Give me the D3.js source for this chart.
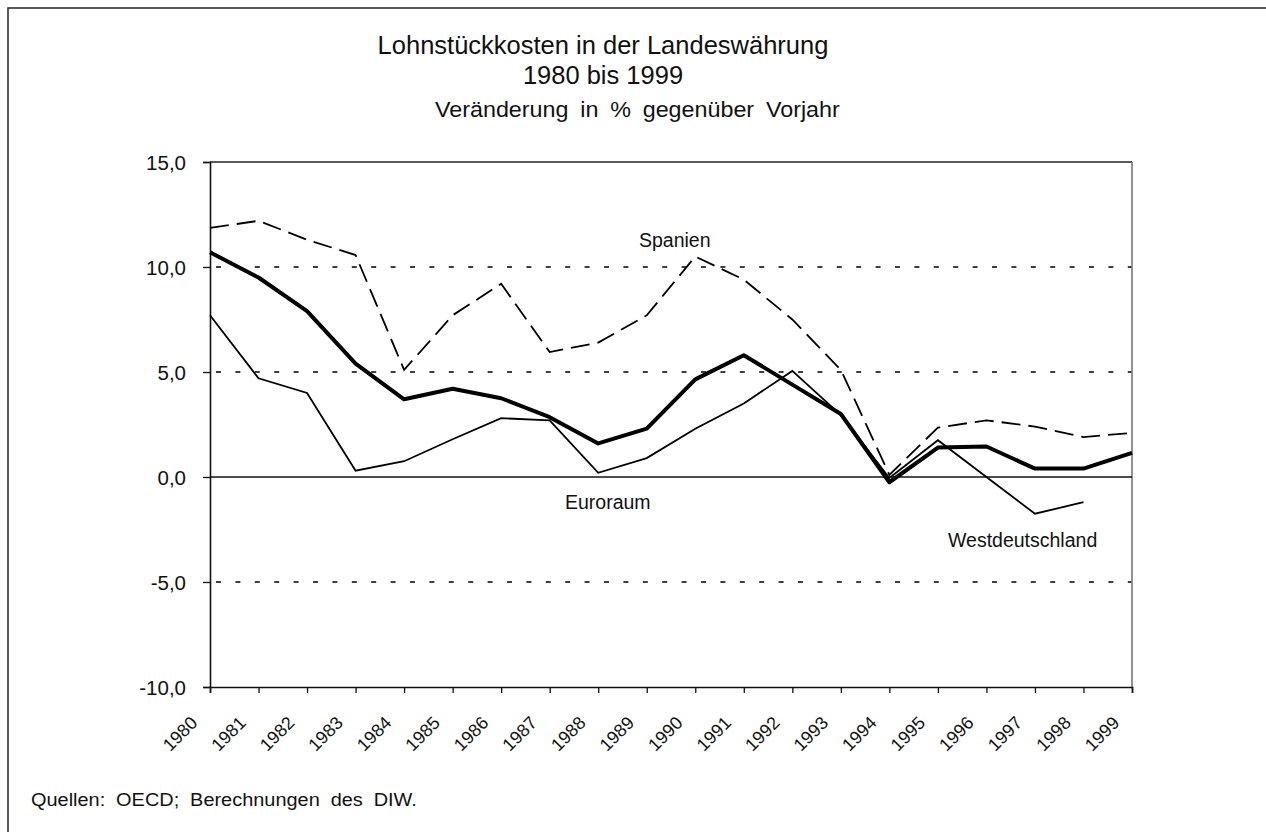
<!DOCTYPE html>
<html>
<head>
<meta charset="utf-8">
<script src="https://cdn.jsdelivr.net/npm/d3@7"></script>
<style>
  body { margin: 0; background: #fff; }
  text { font-family: "Liberation Sans", Arial, sans-serif; fill: #111; }
</style>
</head>
<body>
<div id="chart"></div>
<script>
var svgWidth = 1266;
var svgHeight = 832;

// data
var years = [1980, 1981, 1982, 1983, 1984, 1985, 1986, 1987, 1988, 1989,
             1990, 1991, 1992, 1993, 1994, 1995, 1996, 1997, 1998, 1999];
var spanien = [11.86, 12.2, 11.3, 10.57, 5.1, 7.7, 9.2, 5.95, 6.4, 7.7,
               10.5, 9.4, 7.5, 5.1, 0.1, 2.35, 2.7, 2.4, 1.9, 2.1];
var euroraum = [10.7, 9.5, 7.9, 5.4, 3.7, 4.2, 3.75, 2.85, 1.6, 2.3,
                4.65, 5.8, 4.4, 3.0, -0.25, 1.4, 1.45, 0.4, 0.4, 1.15];
var westdeutschland = [7.7, 4.7, 4.0, 0.3, 0.75, 1.8, 2.8, 2.7, 0.2, 0.9,
                       2.3, 3.5, 5.05, 2.95, -0.05, 1.75, 0.0, -1.75, -1.2, null];
var yTicks = [-10, -5, 0, 5, 10, 15];

var margin = { top: 162, left: 210, right: 134, bottom: 145 };
var width = svgWidth - margin.left - margin.right;
var height = svgHeight - margin.top - margin.bottom;

var svg = d3.select("#chart")
    .append("svg")
    .attr("width", svgWidth)
    .attr("height", svgHeight);

// outer frame (only left and top edges visible)
svg.append("rect")
    .attr("x", 8).attr("y", 8)
    .attr("width", svgWidth + 20).attr("height", svgHeight + 20)
    .attr("fill", "none")
    .attr("stroke", "#222")
    .attr("stroke-width", 1.5);

// text stretched sideways so it spans the given width (the source type is wide)
function wideText(x, y, size, str, targetWidth) {
    var t = svg.append("text")
        .attr("x", 0).attr("y", 0)
        .style("font-size", size + "px")
        .style("word-spacing", "5px")
        .text(str);
    var sx = targetWidth / t.node().getComputedTextLength();
    t.attr("transform", `translate(${x}, ${y}) scale(${sx}, 1)`);
    return t;
}

// titles
svg.append("text")
    .attr("x", 603).attr("y", 54)
    .attr("text-anchor", "middle")
    .style("font-size", "25.5px")
    .text("Lohnstückkosten in der Landeswährung");
svg.append("text")
    .attr("x", 603).attr("y", 84)
    .attr("text-anchor", "middle")
    .style("font-size", "25.5px")
    .text("1980 bis 1999");
wideText(435, 117, 22, "Veränderung in % gegenüber Vorjahr", 405);

var chartGroup = svg.append("g")
    .attr("transform", `translate(${margin.left}, ${margin.top})`);

var xScale = d3.scaleLinear()
    .domain([d3.min(years), d3.max(years)])
    .range([0, width]);

var yScale = d3.scaleLinear()
    .domain([-10, 15])
    .range([height, 0]);

// grid lines
chartGroup.selectAll(".grid")
    .data(yTicks.filter(d => d !== 0 && d !== -10 && d !== 15))
    .enter()
    .append("line")
    .attr("x1", 0).attr("x2", width)
    .attr("y1", d => yScale(d)).attr("y2", d => yScale(d))
    .attr("stroke", "#000")
    .attr("stroke-width", 1.3)
    .attr("stroke-dasharray", "5,14.4")
    .attr("stroke-dashoffset", -6);

// plot border: top solid, right grey
chartGroup.append("line")
    .attr("x1", 0).attr("x2", width)
    .attr("y1", yScale(15)).attr("y2", yScale(15))
    .attr("stroke", "#222").attr("stroke-width", 1.3);
chartGroup.append("line")
    .attr("x1", width).attr("x2", width)
    .attr("y1", 0).attr("y2", height)
    .attr("stroke", "#777").attr("stroke-width", 1.6);

// zero line
chartGroup.append("line")
    .attr("x1", 0).attr("x2", width)
    .attr("y1", yScale(0)).attr("y2", yScale(0))
    .attr("stroke", "#111").attr("stroke-width", 1.6);

// y axis
var leftAxis = d3.axisLeft(yScale)
    .tickValues(yTicks)
    .tickSize(7)
    .tickPadding(17)
    .tickFormat(d => d3.format(".1f")(d).replace(".", ",").replace("−", "-"));

var yAxis = chartGroup.append("g")
    .call(leftAxis);
yAxis.select(".domain").attr("stroke", "#111").attr("stroke-width", 1.6);
yAxis.selectAll(".tick line").attr("stroke", "#111").attr("stroke-width", 1.3);
yAxis.selectAll("text")
    .style("font-size", "20.5px")
    .attr("fill", "#111")
    .attr("dy", "0.36em");

// x axis
var bottomAxis = d3.axisBottom(xScale)
    .tickValues(years)
    .tickSize(6)
    .tickFormat(d3.format("d"));

var xAxis = chartGroup.append("g")
    .attr("transform", `translate(0, ${height})`)
    .call(bottomAxis);
xAxis.select(".domain").attr("stroke", "#111").attr("stroke-width", 1.6);
xAxis.selectAll(".tick line").attr("stroke", "#111").attr("stroke-width", 1.3);
xAxis.selectAll("text")
    .style("font-size", "18px")
    .attr("fill", "#111")
    .attr("text-anchor", "end")
    .attr("dy", "0")
    .attr("y", 0)
    .attr("transform", "translate(-12, 37) rotate(-45)");

// lines
var line = d3.line()
    .defined(d => d[1] !== null)
    .x(d => xScale(d[0]))
    .y(d => yScale(d[1]));

function series(vals) {
    return years.map((y, i) => [y, vals[i]]);
}

chartGroup.append("path")
    .datum(series(westdeutschland))
    .attr("fill", "none")
    .attr("stroke", "#000")
    .attr("stroke-width", 1.8)
    .attr("d", line);

chartGroup.append("path")
    .datum(series(spanien))
    .attr("fill", "none")
    .attr("stroke", "#000")
    .attr("stroke-width", 1.8)
    .attr("stroke-dasharray", "19,8")
    .attr("d", line);

chartGroup.append("path")
    .datum(series(euroraum))
    .attr("fill", "none")
    .attr("stroke", "#000")
    .attr("stroke-width", 4)
    .attr("stroke-linejoin", "round")
    .attr("d", line);

// series labels
svg.append("text")
    .attr("x", 639).attr("y", 247)
    .style("font-size", "19.5px")
    .text("Spanien");
svg.append("text")
    .attr("x", 565).attr("y", 509)
    .style("font-size", "19.5px")
    .text("Euroraum");
svg.append("text")
    .attr("x", 948).attr("y", 547)
    .style("font-size", "19.5px")
    .text("Westdeutschland");

// source
wideText(31, 806, 18.5, "Quellen: OECD; Berechnungen des DIW.", 386);
</script>
</body>
</html>
